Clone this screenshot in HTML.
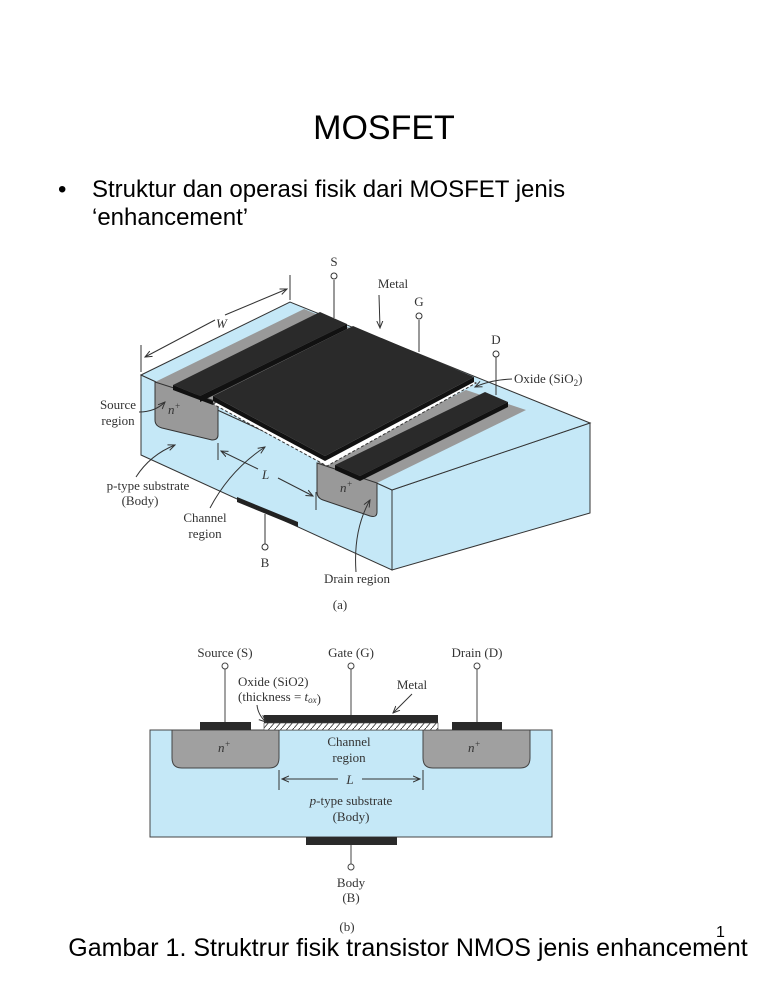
<!DOCTYPE html>
<html><head><meta charset="utf-8"><style>
body{margin:0;background:#fff}
svg{display:block}
.s{font-family:"Liberation Serif",serif;font-size:13px;fill:#333}
.a{font-family:"Liberation Sans",sans-serif;fill:#000}
</style></head><body>
<svg width="768" height="994" viewBox="0 0 768 994" xmlns="http://www.w3.org/2000/svg">
<defs>
<marker id="ar" markerWidth="8" markerHeight="8" refX="7" refY="4" orient="auto"><path d="M0,1 L7,4 L0,7" fill="none" stroke="#333" stroke-width="1"/></marker>
<pattern id="h" width="6" height="7" patternUnits="userSpaceOnUse"><rect width="6" height="7" fill="#fff"/><path d="M0,7 L6,0" stroke="#333" stroke-width="0.8"/></pattern>
</defs>
<text class="a" x="384" y="139" font-size="34" text-anchor="middle">MOSFET</text>
<text class="a" x="58" y="197" font-size="24">•</text>
<text class="a" x="92" y="197" font-size="24">Struktur dan operasi fisik dari MOSFET jenis</text>
<text class="a" x="92" y="225" font-size="24">‘enhancement’</text>

<!-- 3D block -->
<polygon points="141,375 392,490 392,570 141,455" fill="#c5e8f7" stroke="#333"/>
<polygon points="392,490 590,423 590,513 392,570" fill="#c5e8f7" stroke="#333"/>
<polygon points="141,375 290,302 590,423 392,490" fill="#c5e8f7" stroke="#333"/>
<polygon points="155,382 304,309 367,335 218,402" fill="#999"/>
<path d="M155,382 L218,402 L218,435 Q218,440 212,440 L162,428 Q155,426 155,420 Z" fill="#999" stroke="#333"/>
<polygon points="317,463 466,390 526,410 377,483" fill="#999"/>
<path d="M317,463 L377,483 L377,512 Q377,518 370,516 L323,500 Q317,498 317,492 Z" fill="#999" stroke="#333"/>
<polygon points="173,385 320,312 347,324 200,396" fill="#2a2a2a"/>
<polygon points="173,385 200,396 213,401 213,405 173,390" fill="#111"/>
<polygon points="200,396 347,324 347,329 200,402" fill="#111"/>
<polygon points="213,404 353,331 476,383 327,466" fill="#fff" stroke="#333" stroke-dasharray="3,2"/>
<polygon points="213,396 353,326 474,377 325,456" fill="#2a2a2a"/>
<polygon points="213,396 325,456 325,461 213,401" fill="#111"/>
<polygon points="325,456 474,377 474,382 325,461" fill="#111"/>
<polygon points="335,465 485,392 508,402 360,476" fill="#2a2a2a"/>
<polygon points="335,465 360,476 360,481 335,470" fill="#111"/>
<polygon points="360,476 508,402 508,407 360,481" fill="#111"/>
<polygon points="237,497 298,522 298,527 237,502" fill="#222"/>
<line x1="334" y1="280" x2="334" y2="318" stroke="#333"/><circle cx="334" cy="276" r="3" fill="#fff" stroke="#333"/>
<line x1="419" y1="320" x2="419" y2="352" stroke="#333"/><circle cx="419" cy="316" r="3" fill="#fff" stroke="#333"/>
<line x1="496" y1="357" x2="496" y2="395" stroke="#333"/><circle cx="496" cy="354" r="3" fill="#fff" stroke="#333"/>
<line x1="265" y1="514" x2="265" y2="544" stroke="#333"/><circle cx="265" cy="547" r="3" fill="#fff" stroke="#333"/>
<text class="s" x="334" y="266" text-anchor="middle">S</text>
<text class="s" x="419" y="306" text-anchor="middle">G</text>
<text class="s" x="496" y="344" text-anchor="middle">D</text>
<text class="s" x="265" y="567" text-anchor="middle">B</text>
<text class="s" x="393" y="288" text-anchor="middle">Metal</text>
<line x1="379" y1="295" x2="380" y2="328" stroke="#333" marker-end="url(#ar)"/>
<text class="s" x="514" y="383">Oxide (SiO<tspan font-size="9" dy="3">2</tspan><tspan dy="-3">)</tspan></text>
<path d="M512,379 Q490,380 475,387" fill="none" stroke="#333" marker-end="url(#ar)"/>
<text class="s" x="118" y="409" text-anchor="middle">Source</text>
<text class="s" x="118" y="425" text-anchor="middle">region</text>
<path d="M139,412 Q155,412 165,402" fill="none" stroke="#333" marker-end="url(#ar)"/>
<text class="s" x="148" y="490" text-anchor="middle">p-type substrate</text>
<text class="s" x="140" y="505" text-anchor="middle">(Body)</text>
<path d="M136,477 Q150,455 175,445" fill="none" stroke="#333" marker-end="url(#ar)"/>
<text class="s" x="205" y="522" text-anchor="middle">Channel</text>
<text class="s" x="205" y="538" text-anchor="middle">region</text>
<path d="M210,508 Q230,470 265,447" fill="none" stroke="#333" marker-end="url(#ar)"/>
<text class="s" x="357" y="583" text-anchor="middle">Drain region</text>
<path d="M356,572 Q353,530 370,500" fill="none" stroke="#333" marker-end="url(#ar)"/>
<text class="s" x="340" y="609" text-anchor="middle">(a)</text>
<line x1="141" y1="372" x2="141" y2="345" stroke="#333"/>
<line x1="290" y1="300" x2="290" y2="275" stroke="#333"/>
<line x1="215" y1="320" x2="145" y2="357" stroke="#333" marker-end="url(#ar)"/>
<line x1="225" y1="315" x2="287" y2="289" stroke="#333" marker-end="url(#ar)"/>
<text class="s" x="216" y="328" font-style="italic">W</text>
<line x1="218" y1="443" x2="218" y2="460" stroke="#333"/>
<line x1="316" y1="492" x2="316" y2="510" stroke="#333"/>
<line x1="258" y1="469" x2="221" y2="451" stroke="#333" marker-end="url(#ar)"/>
<line x1="278" y1="478" x2="313" y2="496" stroke="#333" marker-end="url(#ar)"/>
<text class="s" x="262" y="479" font-style="italic">L</text>
<text class="s" x="168" y="414" font-style="italic">n<tspan font-size="9" dy="-5">+</tspan></text>
<text class="s" x="340" y="492" font-style="italic">n<tspan font-size="9" dy="-5">+</tspan></text>

<rect x="150" y="730" width="402" height="107" fill="#c5e8f7" stroke="#444"/>
<path d="M172,730 L279,730 L279,758 Q279,768 269,768 L182,768 Q172,768 172,758 Z" fill="#a0a0a0" stroke="#444"/>
<path d="M423,730 L530,730 L530,758 Q530,768 520,768 L433,768 Q423,768 423,758 Z" fill="#a0a0a0" stroke="#444"/>
<rect x="200" y="722" width="51" height="8" fill="#2a2a2a"/>
<rect x="452" y="722" width="50" height="8" fill="#2a2a2a"/>
<rect x="264" y="715" width="174" height="8" fill="#2a2a2a"/>
<rect x="264" y="723" width="174" height="7" fill="url(#h)" stroke="#444" stroke-width="0.6"/>
<rect x="306" y="837" width="91" height="8" fill="#2a2a2a"/>
<line x1="225" y1="669" x2="225" y2="722" stroke="#444"/><circle cx="225" cy="666" r="3" fill="#fff" stroke="#444"/>
<line x1="351" y1="669" x2="351" y2="715" stroke="#444"/><circle cx="351" cy="666" r="3" fill="#fff" stroke="#444"/>
<line x1="477" y1="669" x2="477" y2="722" stroke="#444"/><circle cx="477" cy="666" r="3" fill="#fff" stroke="#444"/>
<line x1="351" y1="845" x2="351" y2="864" stroke="#444"/><circle cx="351" cy="867" r="3" fill="#fff" stroke="#444"/>
<text class="s" x="225" y="657" text-anchor="middle">Source (S)</text>
<text class="s" x="351" y="657" text-anchor="middle">Gate (G)</text>
<text class="s" x="477" y="657" text-anchor="middle">Drain (D)</text>
<text class="s" x="238" y="686">Oxide (SiO2)</text>
<text class="s" x="238" y="701">(thickness = <tspan font-style="italic">t<tspan font-size="9" dy="2">ox</tspan></tspan>)</text>
<path d="M257,705 Q258,715 266,722" fill="none" stroke="#333" marker-end="url(#ar)"/>
<text class="s" x="412" y="689" text-anchor="middle">Metal</text>
<line x1="412" y1="694" x2="393" y2="713" stroke="#333" marker-end="url(#ar)"/>
<text class="s" x="349" y="746" text-anchor="middle">Channel</text>
<text class="s" x="349" y="762" text-anchor="middle">region</text>
<text class="s" x="218" y="752" font-style="italic">n<tspan font-size="9" dy="-5">+</tspan></text>
<text class="s" x="468" y="752" font-style="italic">n<tspan font-size="9" dy="-5">+</tspan></text>
<line x1="279" y1="770" x2="279" y2="790" stroke="#333"/>
<line x1="423" y1="770" x2="423" y2="790" stroke="#333"/>
<line x1="338" y1="779" x2="282" y2="779" stroke="#333" marker-end="url(#ar)"/>
<line x1="362" y1="779" x2="420" y2="779" stroke="#333" marker-end="url(#ar)"/>
<text class="s" x="350" y="784" text-anchor="middle" font-style="italic">L</text>
<text class="s" x="351" y="805" text-anchor="middle"><tspan font-style="italic">p</tspan>-type substrate</text>
<text class="s" x="351" y="821" text-anchor="middle">(Body)</text>
<text class="s" x="351" y="887" text-anchor="middle">Body</text>
<text class="s" x="351" y="902" text-anchor="middle">(B)</text>
<text class="s" x="347" y="931" text-anchor="middle">(b)</text>
<text class="a" x="716" y="937" font-size="16">1</text>
<text class="a" x="408" y="956" font-size="25" text-anchor="middle">Gambar 1. Struktrur fisik transistor NMOS jenis enhancement</text>
</svg>
</body></html>
